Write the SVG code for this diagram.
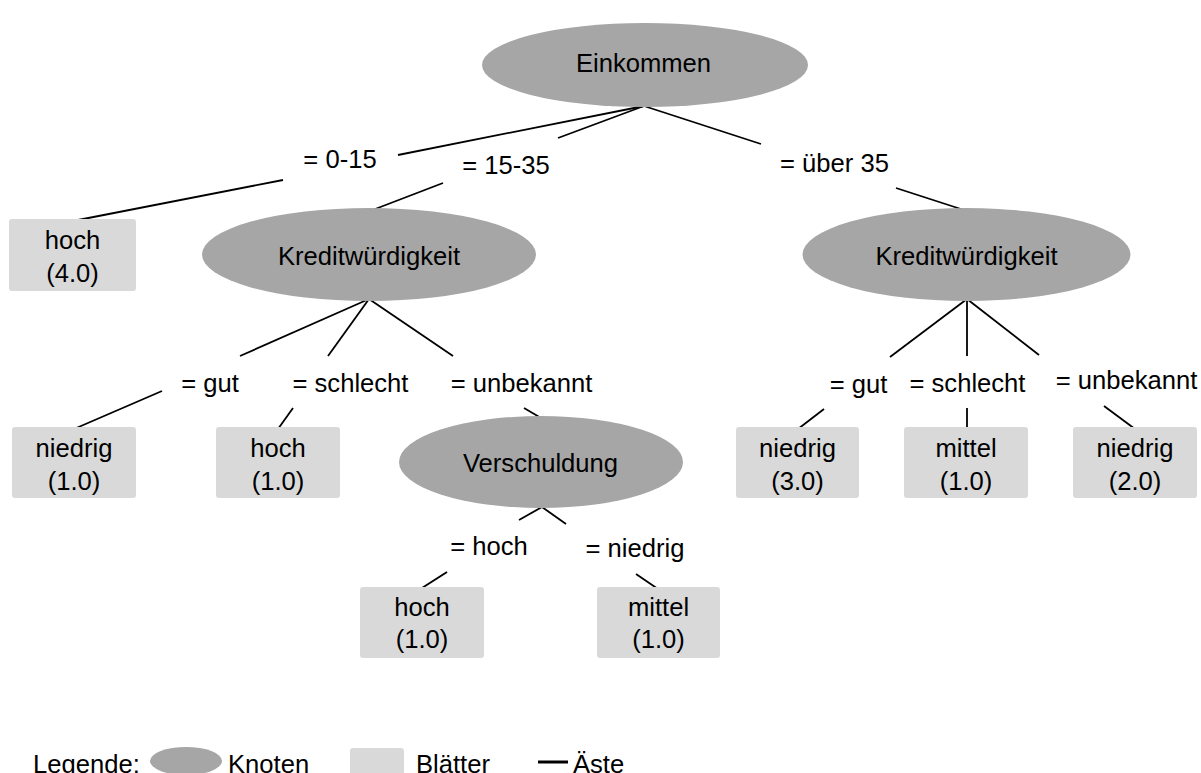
<svg xmlns="http://www.w3.org/2000/svg" width="1201" height="773" viewBox="0 0 1201 773">
<style>
text{font-family:"Liberation Sans",Arial,sans-serif;font-size:25.6px;fill:#000;text-anchor:middle}
.node{fill:#a6a6a6}
.leaf{fill:#d9d9d9}
.edge{stroke:#000;stroke-width:1.8;fill:none}
.lg{text-anchor:start}
</style>
<rect width="1201" height="773" fill="#fff"/>
<g id="connectors">
<line class="edge" x1="644" y1="106" x2="398" y2="155"/>
<line class="edge" x1="283" y1="180" x2="73" y2="221"/>
<line class="edge" x1="644" y1="106" x2="558" y2="138"/>
<line class="edge" x1="443" y1="183" x2="370" y2="211"/>
<line class="edge" x1="644" y1="106" x2="761" y2="144"/>
<line class="edge" x1="896" y1="188" x2="967" y2="211"/>
<line class="edge" x1="369" y1="299" x2="240" y2="356"/>
<line class="edge" x1="369" y1="299" x2="328" y2="356"/>
<line class="edge" x1="369" y1="299" x2="453" y2="356"/>
<line class="edge" x1="162" y1="391" x2="74" y2="429"/>
<line class="edge" x1="293" y1="408" x2="278" y2="429"/>
<line class="edge" x1="524" y1="408" x2="541" y2="418"/>
<line class="edge" x1="542" y1="507" x2="519" y2="520"/>
<line class="edge" x1="542" y1="507" x2="566" y2="524"/>
<line class="edge" x1="447" y1="572" x2="422" y2="588"/>
<line class="edge" x1="636" y1="574" x2="658" y2="589"/>
<line class="edge" x1="967" y1="299" x2="890" y2="357"/>
<line class="edge" x1="967" y1="299" x2="967" y2="356"/>
<line class="edge" x1="967" y1="299" x2="1039" y2="355"/>
<line class="edge" x1="824" y1="409" x2="798" y2="429"/>
<line class="edge" x1="967" y1="408" x2="967" y2="429"/>
<line class="edge" x1="1104" y1="406" x2="1135" y2="429"/>
</g>
<g id="labels">
<text x="340" y="168">= 0-15</text>
<text x="506" y="174">= 15-35</text>
<text x="834.5" y="172">= über 35</text>
<text x="210" y="392">= gut</text>
<text x="350.5" y="392">= schlecht</text>
<text x="521.5" y="392">= unbekannt</text>
<text x="489" y="555">= hoch</text>
<text x="635" y="557">= niedrig</text>
<text x="858.5" y="393">= gut</text>
<text x="967.5" y="392">= schlecht</text>
<text x="1126.5" y="389">= unbekannt</text>
</g>
<g id="n-einkommen">
<ellipse class="node" cx="645" cy="65" rx="163" ry="42"/>
<text x="643.5" y="72">Einkommen</text>
</g>
<g id="l-hoch4">
<rect class="leaf" x="9" y="219" width="127" height="72" rx="3"/>
<text x="72.5" y="249">hoch</text>
<text x="72.5" y="282">(4.0)</text>
</g>
<g id="n-kredit-left">
<ellipse class="node" cx="369" cy="254.5" rx="167" ry="46.5"/>
<text x="369" y="265">Kreditwürdigkeit</text>
</g>
<g id="n-kredit-right">
<ellipse class="node" cx="966.5" cy="254.5" rx="164" ry="46.5"/>
<text x="966.5" y="265">Kreditwürdigkeit</text>
</g>
<g id="l-niedrig1">
<rect class="leaf" x="12" y="427" width="124" height="71" rx="3"/>
<text x="74" y="457">niedrig</text>
<text x="74" y="490">(1.0)</text>
</g>
<g id="l-hoch1a">
<rect class="leaf" x="216" y="427" width="124" height="71" rx="3"/>
<text x="278" y="457">hoch</text>
<text x="278" y="490">(1.0)</text>
</g>
<g id="n-verschuldung">
<ellipse class="node" cx="541" cy="462" rx="142" ry="46"/>
<text x="540.5" y="472">Verschuldung</text>
</g>
<g id="l-hoch1b">
<rect class="leaf" x="360" y="587" width="124" height="71" rx="3"/>
<text x="422" y="616">hoch</text>
<text x="422" y="648">(1.0)</text>
</g>
<g id="l-mittel1a">
<rect class="leaf" x="597" y="587" width="123" height="71" rx="3"/>
<text x="658.5" y="616">mittel</text>
<text x="658.5" y="648">(1.0)</text>
</g>
<g id="l-niedrig3">
<rect class="leaf" x="736" y="427" width="123" height="71" rx="3"/>
<text x="797.5" y="457">niedrig</text>
<text x="797.5" y="490">(3.0)</text>
</g>
<g id="l-mittel1b">
<rect class="leaf" x="904" y="427" width="124" height="71" rx="3"/>
<text x="966" y="457">mittel</text>
<text x="966" y="490">(1.0)</text>
</g>
<g id="l-niedrig2">
<rect class="leaf" x="1073" y="427" width="124" height="71" rx="3"/>
<text x="1135" y="457">niedrig</text>
<text x="1135" y="490">(2.0)</text>
</g>
<g id="legend">
<text class="lg" x="33" y="773">Legende:</text>
<ellipse class="node" cx="186" cy="761" rx="36" ry="14"/>
<text class="lg" x="228" y="773">Knoten</text>
<rect class="leaf" x="350" y="748" width="54" height="35" rx="3"/>
<text class="lg" x="416" y="773">Blätter</text>
<line x1="538" y1="762" x2="568" y2="762" stroke="#000" stroke-width="3"/>
<text class="lg" x="573" y="773">Äste</text>
</g>
</svg>
